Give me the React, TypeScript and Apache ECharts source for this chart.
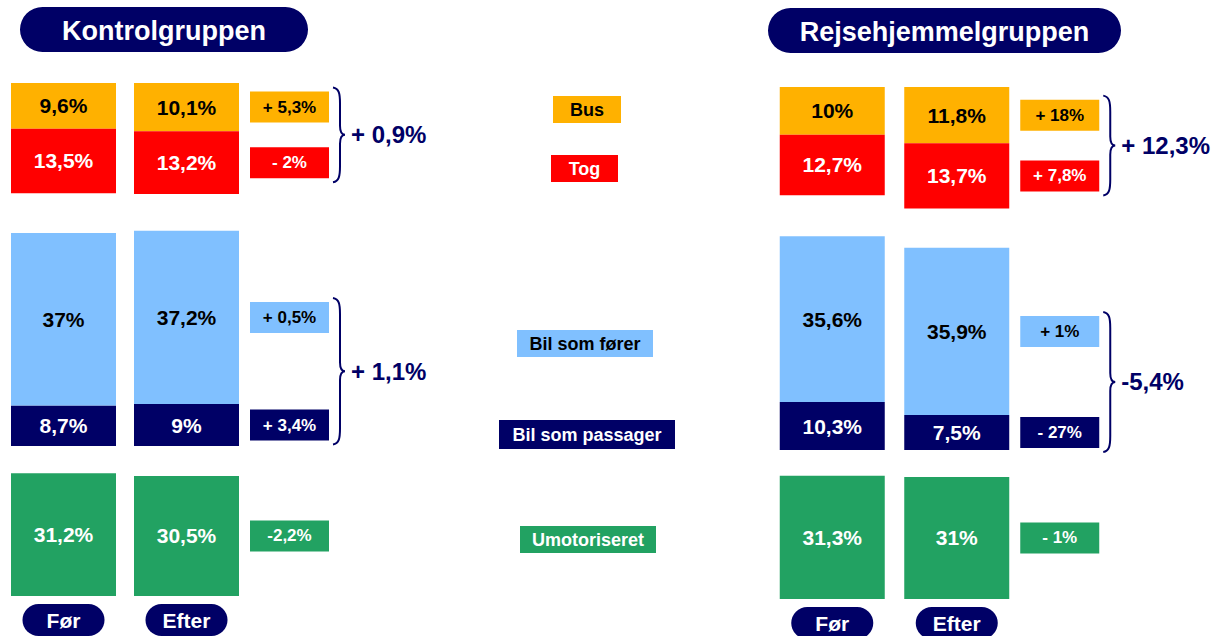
import React, { useEffect, useRef } from 'react';
import * as echarts from 'echarts';

// ---------- data ----------
const periods = ['Før', 'Efter'];
const groupTitles = ['Kontrolgruppen', 'Rejsehjemmelgruppen'];
const modeNames = ['Bus', 'Tog', 'Bil som fører', 'Bil som passager', 'Umotoriseret'];

const kontrolBus = [9.6, 10.1];
const kontrolTog = [13.5, 13.2];
const kontrolForer = [37, 37.2];
const kontrolPassager = [8.7, 9];
const kontrolUmot = [31.2, 30.5];

const rejseBus = [10, 11.8];
const rejseTog = [12.7, 13.7];
const rejseForer = [35.6, 35.9];
const rejsePassager = [10.3, 7.5];
const rejseUmot = [31.3, 31];

// change labels in order: Bus, Tog, Bil som fører, Bil som passager, Umotoriseret
const kontrolChange = ['+ 5,3%', '- 2%', '+ 0,5%', '+ 3,4%', '-2,2%'];
const rejseChange = ['+ 18%', '+ 7,8%', '+ 1%', '- 27%', '- 1%'];
// totals: kollektiv (bus+tog), bil (fører+passager)
const kontrolTotal = ['+ 0,9%', '+ 1,1%'];
const rejseTotal = ['+ 12,3%', '-5,4%'];

// ---------- styles ----------
const FONT = '"Liberation Sans", Arial, Helvetica, sans-serif';
const NAVY = '#000066';
const C_BUS = '#FFB100';
const C_TOG = '#FF0000';
const C_FORER = '#80C0FF';
const C_PASS = '#000066';
const C_UMOT = '#22A262';
const modeColors = [C_BUS, C_TOG, C_FORER, C_PASS, C_UMOT];
const modeText = ['#000', '#fff', '#000', '#fff', '#fff'];

const GRID_LAYOUT = [
  [
    { left: 2, width: 246, top: 83, height: 124 },
    { left: 2, width: 246, top: 227, height: 219 },
    { left: 2, width: 246, top: 470, height: 126 },
  ],
  [
    { left: 770, width: 249, top: 87, height: 124 },
    { left: 770, width: 249, top: 231, height: 219 },
    { left: 770, width: 249, top: 473, height: 126 },
  ],
];
const AXIS_MAX = [26, 47, 32];
const BAR_W = 105;
const BOX_W = 79;
const BOX_H = 31;
const BOX_GAP = 11;

const fmt = (v: number) => String(v).replace('.', ',') + '%';

const groups = [
  { bus: kontrolBus, tog: kontrolTog, forer: kontrolForer, pass: kontrolPassager, umot: kontrolUmot, change: kontrolChange, total: kontrolTotal },
  { bus: rejseBus, tog: rejseTog, forer: rejseForer, pass: rejsePassager, umot: rejseUmot, change: rejseChange, total: rejseTotal },
];

function barSeries(name: string, data: number[], modeIdx: number, gi: number, stack: string) {
  return {
    type: 'bar',
    name,
    data,
    stack,
    xAxisIndex: gi,
    yAxisIndex: gi,
    barWidth: BAR_W,
    itemStyle: { color: modeColors[modeIdx] },
    label: {
      show: true,
      position: 'inside',
      formatter: (p: any) => fmt(p.value),
      color: modeText[modeIdx],
      fontFamily: FONT,
      fontSize: 21,
      fontWeight: 'bold',
    },
    emphasis: { disabled: true },
  };
}

function boxSeries(gi: number, centers: number[], modes: number[], texts: string[]) {
  return {
    type: 'custom',
    xAxisIndex: gi,
    yAxisIndex: gi,
    clip: false,
    silent: true,
    data: centers.map((c) => [1, c]),
    renderItem: (params: any, api: any) => {
      const p = api.coord([api.value(0), api.value(1)]);
      const m = modes[params.dataIndex];
      const x = p[0] + BAR_W / 2 + BOX_GAP;
      return {
        type: 'group',
        children: [
          { type: 'rect', shape: { x, y: p[1] - BOX_H / 2, width: BOX_W, height: BOX_H }, style: { fill: modeColors[m] } },
          {
            type: 'text',
            style: {
              text: texts[params.dataIndex],
              x: x + BOX_W / 2,
              y: p[1],
              align: 'center',
              verticalAlign: 'middle',
              fill: modeText[m],
              fontFamily: FONT,
              fontSize: 17,
              fontWeight: 'bold',
            },
          },
        ],
      };
    },
  };
}

function braceSeries(gi: number, c1: number, c2: number, text: string) {
  return {
    type: 'custom',
    xAxisIndex: gi,
    yAxisIndex: gi,
    clip: false,
    silent: true,
    data: [[1, c1, c2]],
    renderItem: (params: any, api: any) => {
      const p1 = api.coord([api.value(0), api.value(1)]);
      const p2 = api.coord([api.value(0), api.value(2)]);
      const yt = Math.min(p1[1], p2[1]) - BOX_H / 2 - 4;
      const yb = Math.max(p1[1], p2[1]) + BOX_H / 2 + 4;
      const ym = (yt + yb) / 2;
      const x0 = p1[0] + BAR_W / 2 + BOX_GAP + BOX_W + 4;
      const w = 12;
      const xm = x0 + 7;
      const d =
        `M${x0},${yt} C${x0 + 6},${yt + 1} ${xm},${yt + 6} ${xm},${yt + 16} ` +
        `L${xm},${ym - 9} C${xm},${ym - 3} ${x0 + 9},${ym} ${x0 + w},${ym} ` +
        `C${x0 + 9},${ym} ${xm},${ym + 3} ${xm},${ym + 9} ` +
        `L${xm},${yb - 16} C${xm},${yb - 6} ${x0 + 6},${yb - 1} ${x0},${yb}`;
      return {
        type: 'group',
        children: [
          { type: 'path', shape: { pathData: d }, style: { fill: 'none', stroke: NAVY, lineWidth: 2 } },
          {
            type: 'text',
            style: {
              text,
              x: x0 + w + 6,
              y: ym,
              align: 'left',
              verticalAlign: 'middle',
              fill: NAVY,
              fontFamily: FONT,
              fontSize: 24,
              fontWeight: 'bold',
            },
          },
        ],
      };
    },
  };
}

function buildOption() {
  const grid: any[] = [];
  const xAxis: any[] = [];
  const yAxis: any[] = [];
  const series: any[] = [];

  groups.forEach((g, gIdx) => {
    for (let b = 0; b < 3; b++) {
      const gi = gIdx * 3 + b;
      grid.push({ ...GRID_LAYOUT[gIdx][b], outerBoundsMode: 'none', containLabel: false });
      xAxis.push({
        type: 'category',
        gridIndex: gi,
        data: periods,
        axisLine: { show: false },
        axisTick: { show: false },
        splitLine: { show: false },
        axisLabel:
          b === 2
            ? {
                show: true,
                color: '#fff',
                fontFamily: FONT,
                fontSize: 21,
                fontWeight: 'bold',
                backgroundColor: NAVY,
                borderRadius: 16,
                width: 82,
                height: 32,
                lineHeight: 32,
                align: 'center',
                margin: 8,
              }
            : { show: false },
      });
      yAxis.push({
        type: 'value',
        gridIndex: gi,
        min: 0,
        max: AXIS_MAX[b],
        inverse: b === 0,
        show: false,
        splitLine: { show: false },
      });
    }
    const t = gIdx * 3;
    // top block: Bus + Tog, stacked downward
    series.push(barSeries(modeNames[0], g.bus, 0, t, 'top' + gIdx));
    series.push(barSeries(modeNames[1], g.tog, 1, t, 'top' + gIdx));
    // middle block: passager at bottom, fører above
    series.push(barSeries(modeNames[3], g.pass, 3, t + 1, 'mid' + gIdx));
    series.push(barSeries(modeNames[2], g.forer, 2, t + 1, 'mid' + gIdx));
    // bottom block
    series.push(barSeries(modeNames[4], g.umot, 4, t + 2, 'bot' + gIdx));

    const cBus = g.bus[1] / 2;
    const cTog = g.bus[1] + g.tog[1] / 2;
    const cPass = g.pass[1] / 2;
    const cForer = g.pass[1] + g.forer[1] / 2;
    const cUmot = g.umot[1] / 2;

    series.push(boxSeries(t, [cBus, cTog], [0, 1], [g.change[0], g.change[1]]));
    series.push(boxSeries(t + 1, [cForer, cPass], [2, 3], [g.change[2], g.change[3]]));
    series.push(boxSeries(t + 2, [cUmot], [4], [g.change[4]]));
    series.push(braceSeries(t, cBus, cTog, g.total[0]));
    series.push(braceSeries(t + 1, cForer, cPass, g.total[1]));
  });

  const titleBoxes = [
    { x: 20, y: 7, w: 288, h: 45 },
    { x: 768, y: 8, w: 353, h: 45 },
  ];
  const legendBoxes = [
    { x: 553, y: 96, w: 68, h: 27 },
    { x: 551, y: 155, w: 67, h: 27 },
    { x: 517, y: 330, w: 136, h: 27 },
    { x: 499, y: 420, w: 176, h: 29 },
    { x: 520, y: 526, w: 136, h: 27 },
  ];

  const graphic: any[] = [];
  titleBoxes.forEach((tb, i) => {
    graphic.push({
      type: 'group',
      children: [
        { type: 'rect', shape: { x: tb.x, y: tb.y, width: tb.w, height: tb.h, r: tb.h / 2 }, style: { fill: NAVY } },
        {
          type: 'text',
          x: tb.x + tb.w / 2,
          y: tb.y + tb.h / 2 + 1,
          style: {
            text: groupTitles[i],
            align: 'center',
            verticalAlign: 'middle',
            fill: '#fff',
            fontFamily: FONT,
            fontSize: 27,
            fontWeight: 'bold',
          },
        },
      ],
    });
  });
  legendBoxes.forEach((lb, i) => {
    graphic.push({
      type: 'group',
      children: [
        { type: 'rect', shape: { x: lb.x, y: lb.y, width: lb.w, height: lb.h }, style: { fill: modeColors[i] } },
        {
          type: 'text',
          x: lb.x + lb.w / 2,
          y: lb.y + lb.h / 2,
          style: {
            text: modeNames[i],
            align: 'center',
            verticalAlign: 'middle',
            fill: modeText[i],
            fontFamily: FONT,
            fontSize: 18,
            fontWeight: 'bold',
          },
        },
      ],
    });
  });

  return {
    animation: false,
    backgroundColor: '#fff',
    grid,
    xAxis,
    yAxis,
    series,
    graphic,
  };
}

export default function App() {
  const ref = useRef<HTMLDivElement>(null);
  useEffect(() => {
    if (!ref.current) return;
    const chart = echarts.init(ref.current, undefined, { renderer: 'svg' });
    chart.setOption(buildOption() as any);
    return () => chart.dispose();
  }, []);
  return <div ref={ref} style={{ position: 'absolute', left: 0, top: 0, width: 1221, height: 636 }} />;
}
